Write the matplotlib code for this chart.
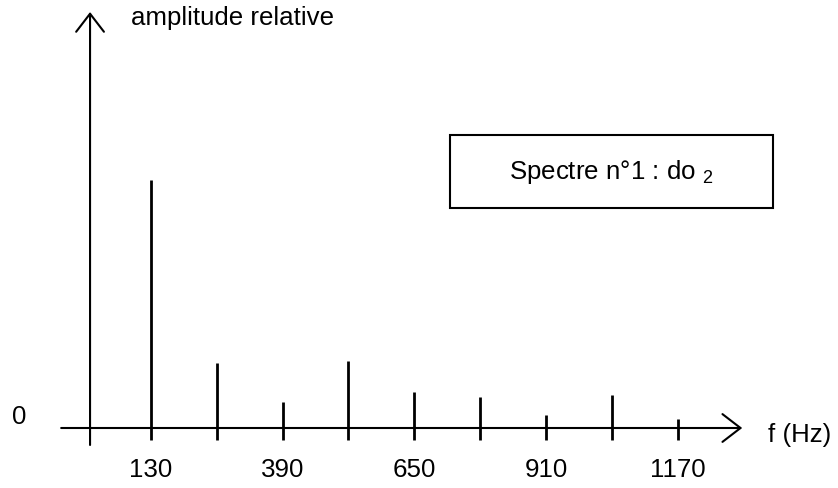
import matplotlib
matplotlib.use("Agg")
import matplotlib.pyplot as plt
from matplotlib.patches import FancyArrowPatch, Rectangle

plt.rcParams['font.family'] = ['Liberation Sans', 'DejaVu Sans']
plt.rcParams['mathtext.fontset'] = 'custom'
plt.rcParams['mathtext.rm'] = 'Liberation Sans'

# spectre : harmoniques de do2 (130 Hz)
freqs = [130, 260, 390, 520, 650, 780, 910, 1040, 1170]
amps = [248, 65, 26, 67, 36, 31, 13, 33, 9]
tick_labels = [130, 390, 650, 910, 1170]

fig = plt.figure(figsize=(8.38, 4.88), dpi=100)
ax = fig.add_axes([0, 0, 1, 1])
ax.set_xlim(-167.7, 1486)
ax.set_ylim(-60, 428)
ax.axis('off')

lw = 1.5
fs = 18.6
tick_low = -12

# axes with open arrow heads
ax.add_patch(FancyArrowPatch((-47, 0), (1297, 0), arrowstyle='->,head_length=1.3,head_width=1.0',
                             mutation_scale=10, lw=lw, color='black', shrinkA=0, shrinkB=0))
ax.add_patch(FancyArrowPatch((10, -17), (10, 416), arrowstyle='->,head_length=1.3,head_width=1.0',
                             mutation_scale=10, lw=lw, color='black', shrinkA=0, shrinkB=0))

# raies (et graduations sous l'axe)
ax.vlines(freqs, tick_low, amps, color='black', lw=2)

for t in tick_labels:
    ax.text(t, -49, str(t), ha='center', va='baseline', fontsize=fs)

ax.text(90, 403, 'amplitude relative', ha='left', va='baseline', fontsize=fs)
ax.text(-130, 11, '0', ha='center', va='center', fontsize=fs)
ax.text(1348, -7, 'f (Hz)', ha='left', va='center', fontsize=fs)

ax.add_patch(Rectangle((720, 220), 638, 73, fill=False, lw=lw, ec='black'))
ax.text(1039, 256, r'Spectre n°1 : do ${}_{\mathregular{2}}$', ha='center', va='center', fontsize=fs)

fig.savefig('out.png', dpi=100)
